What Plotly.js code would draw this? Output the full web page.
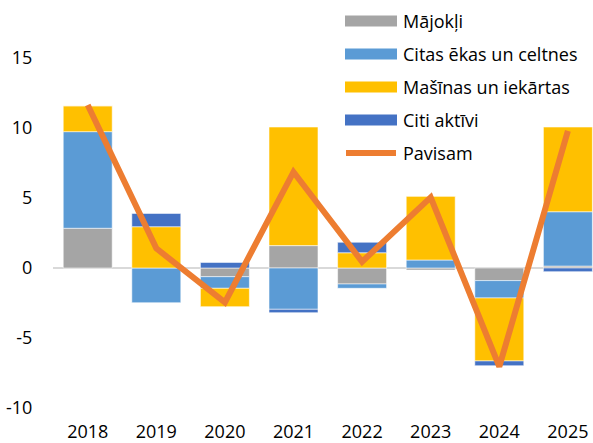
<!DOCTYPE html>
<html>
<head>
<meta charset="utf-8">
<script src="https://cdn.plot.ly/plotly-3.0.1.min.js"></script>
<style>html,body{margin:0;padding:0;background:#fff;}#chart{width:593px;height:443px;}</style>
</head>
<body>
<div id="chart"></div>
<script>
// Data
const years = ['2018', '2019', '2020', '2021', '2022', '2023', '2024', '2025'];
const seriesNames = ['Mājokļi', 'Citas ēkas un celtnes', 'Mašīnas un iekārtas', 'Citi aktīvi', 'Pavisam'];
const majokli    = [2.84, 0.00, -0.62, 1.60, -1.14, -0.15, -0.90, 0.14];
const citasEkas  = [6.90, -2.48, -0.83, -2.95, -0.31, 0.57, -1.24, 3.88];
const masinas    = [1.85, 2.95, -1.31, 8.47, 1.09, 4.57, -4.50, 6.05];
const citiAktivi = [0.00, 0.95, 0.40, -0.24, 0.75, 0.00, -0.34, -0.26];
const pavisam    = [11.64, 1.40, -2.45, 6.86, 0.45, 5.05, -7.05, 9.79];
const yTicks = [-10, -5, 0, 5, 10, 15];
const yTickText = ['-10', '-5', '0', '5', '10', '15'];

const colors = ['#A5A5A5', '#5B9BD5', '#FFC000', '#4472C4', '#ED7D31'];
const barSeries = [majokli, citasEkas, masinas, citiAktivi];

const W = 593, H = 443;
const M = {l: 53, r: 0, t: 10, b: 35};
const pw = W - M.l - M.r, ph = H - M.t - M.b;
const px2x = px => (px - M.l) / pw;
const py2y = py => (H - M.b - py) / ph;

const traces = barSeries.map((vals, i) => ({
  type: 'bar',
  x: years,
  y: vals,
  name: seriesNames[i],
  marker: {color: colors[i], line: {color: 'rgba(255,255,255,0.55)', width: 1}},
  showlegend: false,
  hoverinfo: 'x+y+name'
}));
traces.push({
  type: 'scatter',
  mode: 'lines',
  x: years,
  y: pavisam,
  name: seriesNames[4],
  line: {color: colors[4], width: 6},
  showlegend: false
});

// Legend drawn as shapes + text
const shapes = [];
const annotations = [];
const rowY = [21, 54, 87, 120, 153];
const font = '"Open Sans", sans-serif';
seriesNames.forEach((nm, i) => {
  const cy = rowY[i];
  if (i < 4) {
    shapes.push({type: 'rect', xref: 'paper', yref: 'paper',
      x0: px2x(345), x1: px2x(397), y0: py2y(cy - 5.5), y1: py2y(cy + 5.5),
      fillcolor: colors[i], line: {width: 0}});
  } else {
    shapes.push({type: 'line', xref: 'paper', yref: 'paper',
      x0: px2x(346), x1: px2x(396), y0: py2y(cy), y1: py2y(cy),
      line: {color: colors[i], width: 6}});
  }
  annotations.push({xref: 'paper', yref: 'paper', x: px2x(401), y: py2y(cy),
    xanchor: 'left', yanchor: 'middle', text: nm, showarrow: false,
    font: {family: font, size: 18, color: '#000'}});
});

const layout = {
  width: W, height: H,
  margin: M,
  paper_bgcolor: '#fff', plot_bgcolor: '#fff',
  barmode: 'relative',
  bargap: 0.286,
  showlegend: false,
  font: {family: font, size: 18, color: '#000'},
  xaxis: {
    type: 'category',
    range: [-0.506, 7.366],
    showgrid: false, showline: false, zeroline: false,
    ticks: 'outside', ticklen: 7, tickcolor: 'rgba(0,0,0,0)',
    tickfont: {family: font, size: 18, color: '#000'}
  },
  yaxis: {
    range: [-10, 18.43],
    tickvals: yTicks,
    ticktext: yTickText,
    showgrid: false, showline: false,
    zeroline: true, zerolinecolor: '#D9D9D9', zerolinewidth: 1.5,
    ticks: 'outside', ticklen: 16, tickcolor: 'rgba(0,0,0,0)',
    tickfont: {family: font, size: 18, color: '#000'}
  },
  shapes: shapes,
  annotations: annotations
};

Plotly.newPlot('chart', traces, layout, {displayModeBar: false, staticPlot: true});
</script>
</body>
</html>
